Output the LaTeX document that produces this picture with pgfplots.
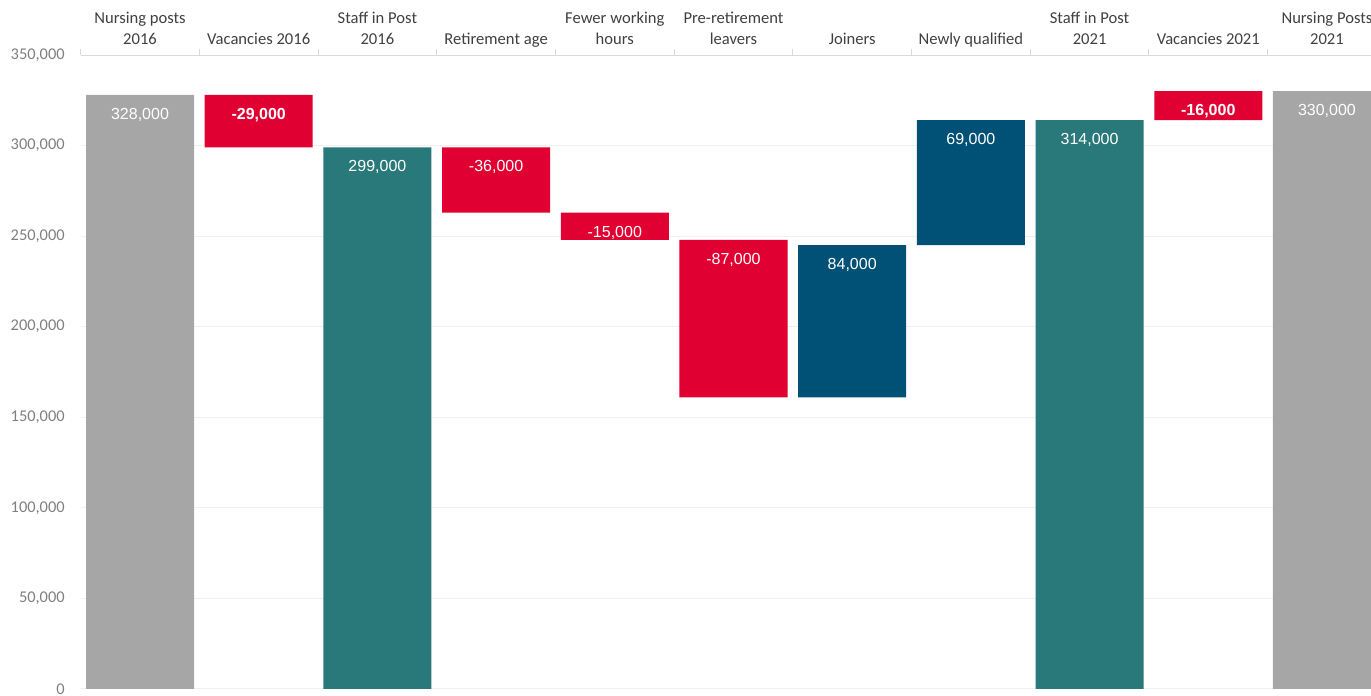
\documentclass[border=0pt]{standalone}
\usepackage{fontspec}
\setmainfont{Carlito}
\newfontfamily\arialf{Liberation Sans}
\usepackage{pgfplots}
\usepackage{pgfplotstable}
\pgfplotsset{compat=1.18}
\definecolor{cgrey}{HTML}{A6A6A6}
\definecolor{cteal}{HTML}{29787A}
\definecolor{cred}{HTML}{E00031}
\definecolor{cblue}{HTML}{005175}
\definecolor{axisgrey}{HTML}{D9D9D9}
\definecolor{gridgrey}{HTML}{F0F0F0}
\definecolor{ticktext}{HTML}{7F7F7F}
\definecolor{cattext}{HTML}{404040}
\pgfplotstableread{
x  base   grey   teal   red   blue  top    lab
0  0      328000 0      0     0     328000 {328,000}
1  299000 0      0      29000 0     328000 {\textbf{-29,000}}
2  0      0      299000 0     0     299000 {299,000}
3  263000 0      0      36000 0     299000 {-36,000}
4  248000 0      0      15000 0     263000 {-15,000}
5  161000 0      0      87000 0     248000 {-87,000}
6  161000 0      0      0     84000 245000 {84,000}
7  245000 0      0      0     69000 314000 {69,000}
8  0      0      314000 0     0     314000 {314,000}
9  314000 0      0      16000 0     330000 {\textbf{-16,000}}
10 0      330000 0      0     0     330000 {330,000}
}\wf
\pgfplotsset{waxis/.style={
  at={(40.33pt,3.5pt)}, anchor=south west,
  scale only axis, width=645.17pt, height=317pt,
  enlargelimits=false,
  xmin=-0.5, xmax=10.371, ymin=0, ymax=350000}}
\begin{document}
\begin{tikzpicture}
\useasboundingbox (0,0) rectangle (685.5pt,348pt);
\clip (0,0) rectangle (685.5pt,348pt);
\begin{axis}[
  waxis,
  ybar stacked, bar width=0.91,
  axis x line*=top, axis y line*=left,
  y axis line style={draw=none},
  x axis line style={draw=axisgrey, line width=0.5pt},
  xtick={0,...,10},
  xticklabels={{Nursing posts\\2016\strut},{Vacancies 2016\strut},{Staff in Post\\2016\strut},{Retirement age\strut},{Fewer working\\hours\strut},{Pre-retirement\\leavers\strut},{Joiners\strut},{Newly qualified\strut},{Staff in Post\\2021\strut},{Vacancies 2021\strut},{Nursing Posts\\2021\strut}},
  xticklabel style={align=center, anchor=south, inner sep=0pt, yshift=2pt, text=cattext, font=\fontsize{8.3}{10.5}\selectfont},
  minor xtick={-0.5,0.5,...,9.5},
  major tick length=0pt, minor tick length=3pt, tick align=outside,
  minor tick style={draw=axisgrey, line width=0.5pt},
  major tick style={draw=none},
  ytick={0,50000,...,350000},
  scaled y ticks=false,
  yticklabel style={anchor=east, inner sep=0pt, xshift=-7.8pt, text=ticktext, font=\fontsize{8.2}{10}\selectfont,
    /pgf/number format/.cd, fixed, 1000 sep={,}, assume math mode=true},
  ymajorgrids, grid style={draw=gridgrey, line width=0.5pt},
]
\addplot[draw=none, fill=none] table[x=x, y=base] {\wf};
\addplot[draw=none, fill=cgrey] table[x=x, y=grey] {\wf};
\addplot[draw=none, fill=cteal] table[x=x, y=teal] {\wf};
\addplot[draw=none, fill=cred] table[x=x, y=red] {\wf};
\addplot[draw=none, fill=cblue] table[x=x, y=blue] {\wf};
\end{axis}
\begin{axis}[waxis, hide axis]
\addplot[only marks, mark=none,
  nodes near coords, point meta=explicit symbolic,
  every node near coord/.append style={anchor=center, yshift=-10pt, text=white, font=\arialf\fontsize{8}{9.6}\selectfont}]
  table[x=x, y=top, meta=lab] {\wf};
\end{axis}
\end{tikzpicture}
\end{document}
